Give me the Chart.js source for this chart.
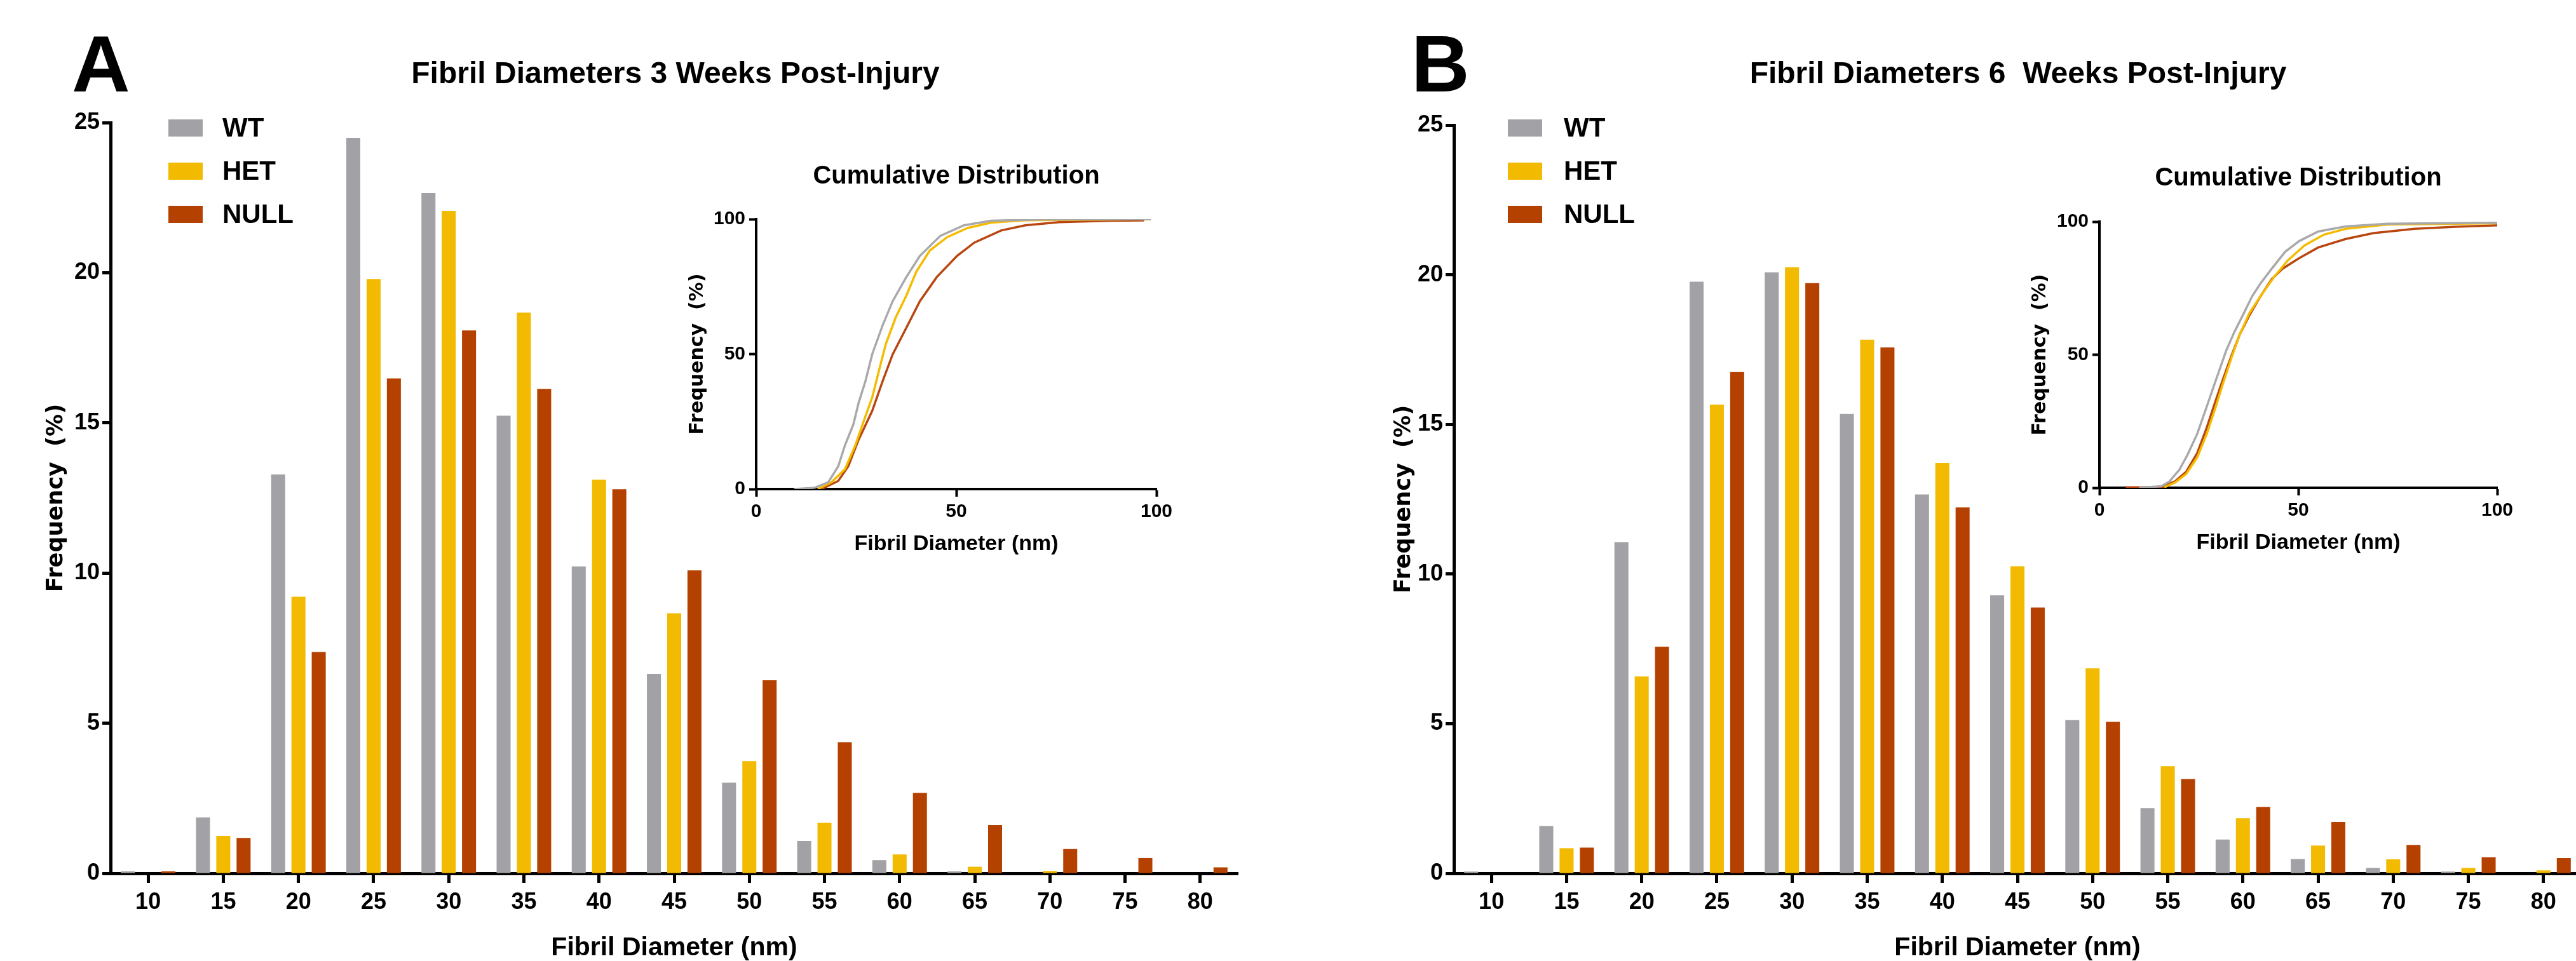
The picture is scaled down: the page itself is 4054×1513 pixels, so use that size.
<!DOCTYPE html>
<html>
<head>
<meta charset="utf-8">
<script src="https://cdn.jsdelivr.net/npm/chart.js@4.4.1/dist/chart.umd.min.js"></script>
<style>
  html, body { margin: 0; padding: 0; overflow: hidden; background: #fff; width: 4054px; height: 1513px; }
  .layer { position: absolute; left: 0; top: 0; width: 4120px; height: 1513px; }
</style>
</head>
<body>
<div class="layer"><canvas id="bars_a"></canvas></div>
<div class="layer"><canvas id="bars_b"></canvas></div>
<div class="layer"><canvas id="cum_a"></canvas></div>
<div class="layer"><canvas id="cum_b"></canvas></div>
<script>
// histogram bins (nm)
const diameters = ['10', '15', '20', '25', '30', '35', '40', '45', '50', '55', '60', '65', '70', '75', '80'];

// 3 weeks post-injury, frequency (%)
const wt3   = [0.07, 1.86, 13.28, 24.49, 22.65, 15.24, 10.22, 6.64, 3.02, 1.08, 0.44, 0.07, 0, 0, 0];
const het3  = [0, 1.25, 9.21, 19.79, 22.06, 18.67, 13.11, 8.66, 3.74, 1.68, 0.63, 0.22, 0.08, 0, 0];
const null3 = [0.07, 1.18, 7.37, 16.48, 18.08, 16.13, 12.79, 10.09, 6.43, 4.37, 2.68, 1.61, 0.81, 0.51, 0.2];

// 6 weeks post-injury, frequency (%)
const wt6   = [0.06, 1.58, 11.07, 19.77, 20.08, 15.35, 12.66, 9.29, 5.12, 2.18, 1.13, 0.48, 0.18, 0.06, 0];
const het6  = [0, 0.84, 6.58, 15.66, 20.25, 17.83, 13.71, 10.26, 6.85, 3.58, 1.84, 0.93, 0.47, 0.18, 0.1];
const null6 = [0, 0.86, 7.57, 16.75, 19.72, 17.57, 12.23, 8.88, 5.06, 3.15, 2.22, 1.72, 0.95, 0.54, 0.51];

// cumulative distribution, 3 weeks (diameter nm / cumulative %)
const cumWt3X   = [9.5, 14.6, 18, 20.5, 22.2, 24.3, 25.6, 27.3, 29, 31.6, 34.1, 37.5, 40.9, 46, 51.9, 58.7, 71.4, 98.6];
const cumWt3Y   = [0, 0.5, 2.5, 8.4, 16.3, 24, 32, 40, 50, 60.7, 69.6, 78.5, 86.4, 93.8, 97.7, 99.4, 99.9, 100];
const cumHet3X  = [15.4, 18.8, 22.2, 24.8, 27.3, 29, 30.7, 32.4, 34.9, 37.5, 40, 43.4, 47.7, 52.8, 58.7, 67.2, 98.6];
const cumHet3Y  = [0, 2.5, 7.4, 16.3, 27, 34, 44, 53.8, 63.7, 71.6, 80.5, 88.4, 93.3, 96.7, 98.7, 99.6, 100];
const cumNull3X = [16.3, 20.5, 23, 25.6, 29, 31.6, 34.1, 37.5, 40.9, 45.1, 50.2, 54.5, 61.2, 67.2, 75.7, 88.4, 96.9];
const cumNull3Y = [0, 3, 8.4, 18.3, 29, 40, 49.9, 59.7, 69.6, 78.5, 86.4, 91.3, 95.8, 97.7, 98.9, 99.4, 99.5];

// cumulative distribution, 6 weeks
const cumWt6X   = [10, 15.6, 17.6, 20.1, 22.1, 24.6, 27, 29.4, 31.8, 33.9, 36.3, 38.4, 40.5, 43.3, 46.7, 50.2, 55, 61.9, 72.3, 100];
const cumWt6Y   = [0, 0.6, 2.4, 6.8, 12.3, 20.3, 30.6, 41, 51.3, 58.5, 65.6, 72, 76.8, 82.3, 88.7, 92.7, 96.3, 98.2, 99.2, 99.6];
const cumHet6X  = [16.3, 19, 21.8, 24.6, 27, 29.1, 31.1, 33.2, 35.3, 37.7, 40.5, 43.9, 47.4, 51.6, 56.4, 61.9, 72.3, 100];
const cumHet6Y  = [0.2, 2, 5.2, 11.5, 20.3, 29.8, 39.4, 48.9, 57.7, 65.6, 72, 79.2, 85.5, 91.1, 95.1, 97.3, 98.9, 99.4];
const cumNull6X = [6.6, 15.6, 19, 21.8, 24.6, 27, 29.1, 31.1, 33.2, 35.3, 37.7, 40.5, 43.3, 46, 50.2, 55, 61.9, 68.9, 79.2, 89.6, 100];
const cumNull6Y = [0.2, 0.2, 2.4, 6, 13.1, 22.7, 32.2, 41, 49.7, 57.7, 64.8, 72, 78.4, 82.3, 86.3, 90.3, 93.5, 95.7, 97.3, 98.1, 98.6];

const groups = ['WT', 'HET', 'NULL'];
const barColors = ['#a2a1a6', '#f2ba00', '#b44100'];
const lineColors = ['#a9a9ab', '#f4bb00', '#b84610'];

const PAGE_W = 4120, PAGE_H = 1513;
const ARIAL = '"Liberation Sans", Arial, sans-serif';
const WIDE = '"DejaVu Sans", Verdana, sans-serif';
const el = id => document.getElementById(id);
const pts = (xs, ys) => xs.map((x, i) => ({ x: x, y: ys[i] }));

// free text (panel letters, titles)
const panelText = {
  id: 'panelText',
  afterDraw(chart, args, opts) {
    const ctx = chart.ctx;
    (opts.items || []).forEach(t => {
      ctx.save();
      ctx.font = t.font;
      ctx.fillStyle = '#000';
      ctx.textAlign = t.align || 'center';
      ctx.textBaseline = 'alphabetic';
      ctx.fillText(t.text, t.x, t.y);
      ctx.restore();
    });
  }
};

// square swatch legend, stacked
const boxLegend = {
  id: 'boxLegend',
  afterDraw(chart, args, opts) {
    if (opts.x === undefined) return;
    const ctx = chart.ctx;
    chart.data.datasets.forEach((ds, i) => {
      const y = opts.y + i * opts.step;
      ctx.save();
      ctx.fillStyle = ds.backgroundColor;
      ctx.fillRect(opts.x, y, opts.w, opts.h);
      ctx.fillStyle = '#000';
      ctx.font = 'bold 42px ' + ARIAL;
      ctx.textAlign = 'left';
      ctx.textBaseline = 'middle';
      ctx.fillText(ds.label, opts.textX, y + opts.h / 2 + 2);
      ctx.restore();
    });
  }
};
Chart.register(panelText, boxLegend);

function barChart(id, c) {
  return new Chart(el(id), {
    type: 'bar',
    data: {
      labels: diameters,
      datasets: c.values.map((v, i) => ({ label: groups[i], data: v, backgroundColor: barColors[i], borderWidth: 0 }))
    },
    options: {
      responsive: true, maintainAspectRatio: false, animation: false,
      layout: { padding: { left: c.left - 174, top: c.top, right: PAGE_W - c.right, bottom: 0 } },
      datasets: { bar: { categoryPercentage: 0.81, barPercentage: 0.69 } },
      scales: {
        x: {
          grid: { display: true, offset: false, drawOnChartArea: false, tickLength: 15, tickWidth: 5, tickColor: '#000' },
          border: { display: true, color: '#000', width: 5 },
          ticks: { color: '#000', font: { family: ARIAL, weight: 'bold', size: 36 }, padding: 9, maxRotation: 0, autoSkip: false },
          title: { display: true, text: 'Fibril Diameter (nm)', color: '#000', font: { family: ARIAL, weight: 'bold', size: 41, lineHeight: 1 }, padding: 0 },
          afterFit: s => { s.height = PAGE_H - 1375; }
        },
        y: {
          min: 0, max: 25,
          grid: { display: true, drawOnChartArea: false, tickLength: 13, tickWidth: 5, tickColor: '#000' },
          border: { display: true, color: '#000', width: 5 },
          ticks: { stepSize: 5, color: '#000', font: { family: ARIAL, weight: 'bold', size: 36 }, padding: 4 },
          title: { display: true, text: 'Frequency  (%)', color: '#000', font: { family: WIDE, weight: 'bold', size: 35 }, padding: { top: c.yTitleX - (c.left - 174) - 21, bottom: 0 } },
          afterFit: s => { s.width = 174; }
        }
      },
      plugins: {
        legend: { display: false },
        tooltip: { enabled: false },
        panelText: { items: c.text },
        boxLegend: c.legend
      }
    }
  });
}

function cumChart(id, c) {
  return new Chart(el(id), {
    type: 'line',
    data: {
      datasets: c.series.map((s, i) => ({
        label: groups[i], data: pts(s[0], s[1]), borderColor: lineColors[i],
        borderWidth: 3.5, pointRadius: 0, tension: 0, fill: false
      }))
    },
    options: {
      responsive: true, maintainAspectRatio: false, animation: false,
      layout: { padding: { left: c.left - 140, top: c.top, right: PAGE_W - c.right, bottom: PAGE_H - c.bottom - 107 } },
      scales: {
        x: {
          type: 'linear', min: 0, max: 100,
          grid: { display: true, drawOnChartArea: false, tickLength: 12, tickWidth: 4, tickColor: '#000' },
          border: { display: true, color: '#000', width: 4 },
          ticks: { stepSize: 50, color: '#000', font: { family: ARIAL, weight: 'bold', size: 30 }, padding: 6, maxRotation: 0 },
          title: { display: true, text: 'Fibril Diameter (nm)', color: '#000', font: { family: ARIAL, weight: 'bold', size: 34 }, padding: 0 },
          afterFit: s => { s.height = 107; }
        },
        y: {
          min: 0, max: 100,
          grid: { display: true, drawOnChartArea: false, tickLength: 11, tickWidth: 4, tickColor: '#000' },
          border: { display: true, color: '#000', width: 4 },
          ticks: { stepSize: 50, color: '#000', font: { family: ARIAL, weight: 'bold', size: 30 }, padding: 6 },
          title: { display: true, text: 'Frequency  (%)', color: '#000', font: { family: WIDE, weight: 'bold', size: 30 }, padding: { top: c.yTitleX - (c.left - 140) - 18, bottom: 0 } },
          afterFit: s => { s.width = 140; }
        }
      },
      plugins: {
        legend: { display: false },
        tooltip: { enabled: false },
        panelText: { items: [{ text: 'Cumulative Distribution', font: 'bold 40px ' + ARIAL, x: (c.left + c.right) / 2, y: c.titleY }] }
      }
    }
  });
}

barChart('bars_a', {
  values: [wt3, het3, null3], left: 174, right: 1948, top: 193, yTitleX: 89,
  legend: { x: 265, y: 188, w: 54, h: 27, step: 68, textX: 350 },
  text: [
    { text: 'A', font: 'bold 127px ' + ARIAL, x: 113, y: 144, align: 'left' },
    { text: 'Fibril Diameters 3 Weeks Post-Injury', font: 'bold 48px ' + ARIAL, x: 1063, y: 131 }
  ]
});

barChart('bars_b', {
  values: [wt6, het6, null6], left: 2288, right: 4062, top: 197, yTitleX: 2210,
  legend: { x: 2373, y: 188, w: 54, h: 27, step: 68, textX: 2461 },
  text: [
    { text: 'B', font: 'bold 127px ' + ARIAL, x: 2221, y: 144, align: 'left' },
    { text: 'Fibril Diameters 6  Weeks Post-Injury', font: 'bold 48px ' + ARIAL, x: 3176, y: 131 }
  ]
});

cumChart('cum_a', {
  series: [[cumWt3X, cumWt3Y], [cumHet3X, cumHet3Y], [cumNull3X, cumNull3Y]],
  left: 1190, right: 1820, top: 345, bottom: 770, yTitleX: 1098, titleY: 289
});

cumChart('cum_b', {
  series: [[cumWt6X, cumWt6Y], [cumHet6X, cumHet6Y], [cumNull6X, cumNull6Y]],
  left: 3304, right: 3930, top: 349, bottom: 768, yTitleX: 3211, titleY: 292
});
</script>
</body>
</html>
